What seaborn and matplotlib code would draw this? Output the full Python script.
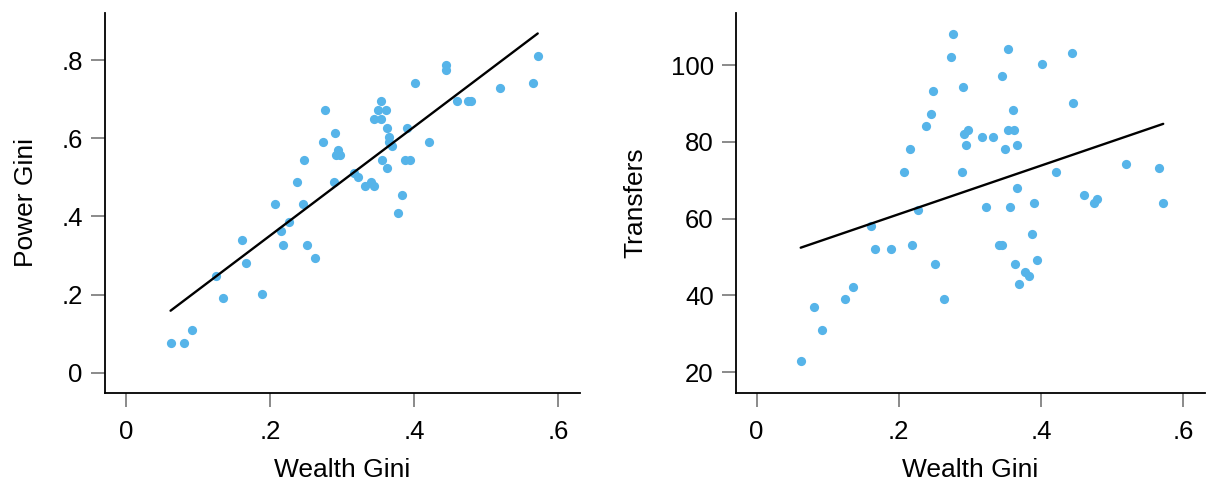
"""
Wealth Gini against power concentration and transfers, two scatter panels
with a linear fit in each.
"""

import matplotlib.pyplot as plt
import pandas as pd
import seaborn as sns


# shared x for both panels (same units)
wealth_gini = [
    0.062, 0.081, 0.092, 0.125, 0.135, 0.161, 0.167, 0.189, 0.207, 0.216,
    0.218, 0.227, 0.238, 0.246, 0.248, 0.251, 0.263, 0.274, 0.276, 0.289,
    0.291, 0.292, 0.295, 0.298, 0.317, 0.323, 0.332, 0.341, 0.345, 0.345,
    0.350, 0.354, 0.354, 0.356, 0.361, 0.362, 0.363, 0.366, 0.366, 0.369,
    0.378, 0.383, 0.387, 0.390, 0.394, 0.402, 0.421, 0.444, 0.445, 0.460,
    0.475, 0.479, 0.520, 0.566, 0.572,
]

power_gini = [
    0.076, 0.076, 0.110, 0.248, 0.191, 0.340, 0.282, 0.202, 0.432, 0.362,
    0.328, 0.385, 0.488, 0.432, 0.545, 0.328, 0.294, 0.592, 0.673, 0.488,
    0.615, 0.558, 0.570, 0.558, 0.512, 0.500, 0.477, 0.489, 0.477, 0.650,
    0.673, 0.696, 0.650, 0.545, 0.673, 0.627, 0.523, 0.604, 0.592, 0.580,
    0.408, 0.454, 0.545, 0.627, 0.545, 0.742, 0.592, 0.788, 0.775, 0.696,
    0.696, 0.696, 0.730, 0.742, 0.810,
]

transfers = [
    22.9, 37.0, 31.0, 39.0, 42.1, 58.1, 52.1, 52.1, 72.2, 78.1,
    53.0, 62.2, 84.1, 87.2, 93.3, 48.1, 39.0, 102.2, 108.2, 72.2,
    94.2, 82.1, 79.2, 83.2, 81.2, 63.1, 81.2, 53.0, 53.0, 97.2,
    78.1, 104.2, 83.2, 63.1, 88.2, 83.2, 48.1, 79.2, 68.1, 43.0,
    46.1, 45.0, 56.1, 64.1, 49.1, 100.2, 72.2, 103.3, 90.1, 66.1,
    64.1, 65.1, 74.2, 73.1, 64.1,
]

x_ticks = [0, 0.2, 0.4, 0.6]
x_tick_labels = ["0", ".2", ".4", ".6"]
power_ticks = [0, 0.2, 0.4, 0.6, 0.8]
power_tick_labels = ["0", ".2", ".4", ".6", ".8"]
transfer_ticks = [20, 40, 60, 80, 100]

DOT_COLOR = "#56B4E9"


def style_axis(ax):
    for side in ("top", "right"):
        ax.spines[side].set_visible(False)
    for side in ("left", "bottom"):
        ax.spines[side].set_color("black")
        ax.spines[side].set_linewidth(1.3)
    ax.tick_params(bottom=True, left=True, direction="out", length=10, width=1.2,
                   color="#777777", labelcolor="black", labelsize=18.5, pad=6)
    ax.tick_params(axis="x", pad=9.5)
    ax.xaxis.label.set_size(19)
    ax.yaxis.label.set_size(19)
    ax.xaxis.label.set_color("black")
    ax.yaxis.label.set_color("black")


def panel(ax, df, y_col, y_label, y_ticks, y_tick_labels, ylim):
    sns.scatterplot(data=df, x="wealth_gini", y=y_col, ax=ax, color=DOT_COLOR,
                    s=44, linewidth=0, zorder=3)
    sns.regplot(data=df, x="wealth_gini", y=y_col, ax=ax, scatter=False, ci=None,
                color="black", line_kws={"linewidth": 1.7, "zorder": 4})
    ax.set_xlim(-0.029, 0.631)
    ax.set_ylim(*ylim)
    ax.set_xticks(x_ticks, x_tick_labels)
    ax.set_yticks(y_ticks, y_tick_labels)
    ax.set_xlabel("Wealth Gini", labelpad=9.5)
    ax.set_ylabel(y_label, labelpad=17)
    style_axis(ax)


def main():
    sns.set_theme(style="white")
    plt.rcParams["font.family"] = ["Liberation Sans", "DejaVu Sans"]

    df = pd.DataFrame({
        "wealth_gini": wealth_gini,
        "power_gini": power_gini,
        "transfers": transfers,
    })

    fig = plt.figure(figsize=(12.06, 4.8), dpi=100)
    ax_left = fig.add_axes([0.0871, 0.1806, 0.394, 0.793])
    ax_right = fig.add_axes([0.6103, 0.1806, 0.389, 0.793])

    panel(ax_left, df, "power_gini", "Power Gini", power_ticks, power_tick_labels,
          (-0.053, 0.922))
    panel(ax_right, df, "transfers", "Transfers", transfer_ticks,
          [str(t) for t in transfer_ticks], (14.45, 113.7))

    fig.savefig("out.png", dpi=100, facecolor="white")
    plt.close(fig)


if __name__ == "__main__":
    main()
